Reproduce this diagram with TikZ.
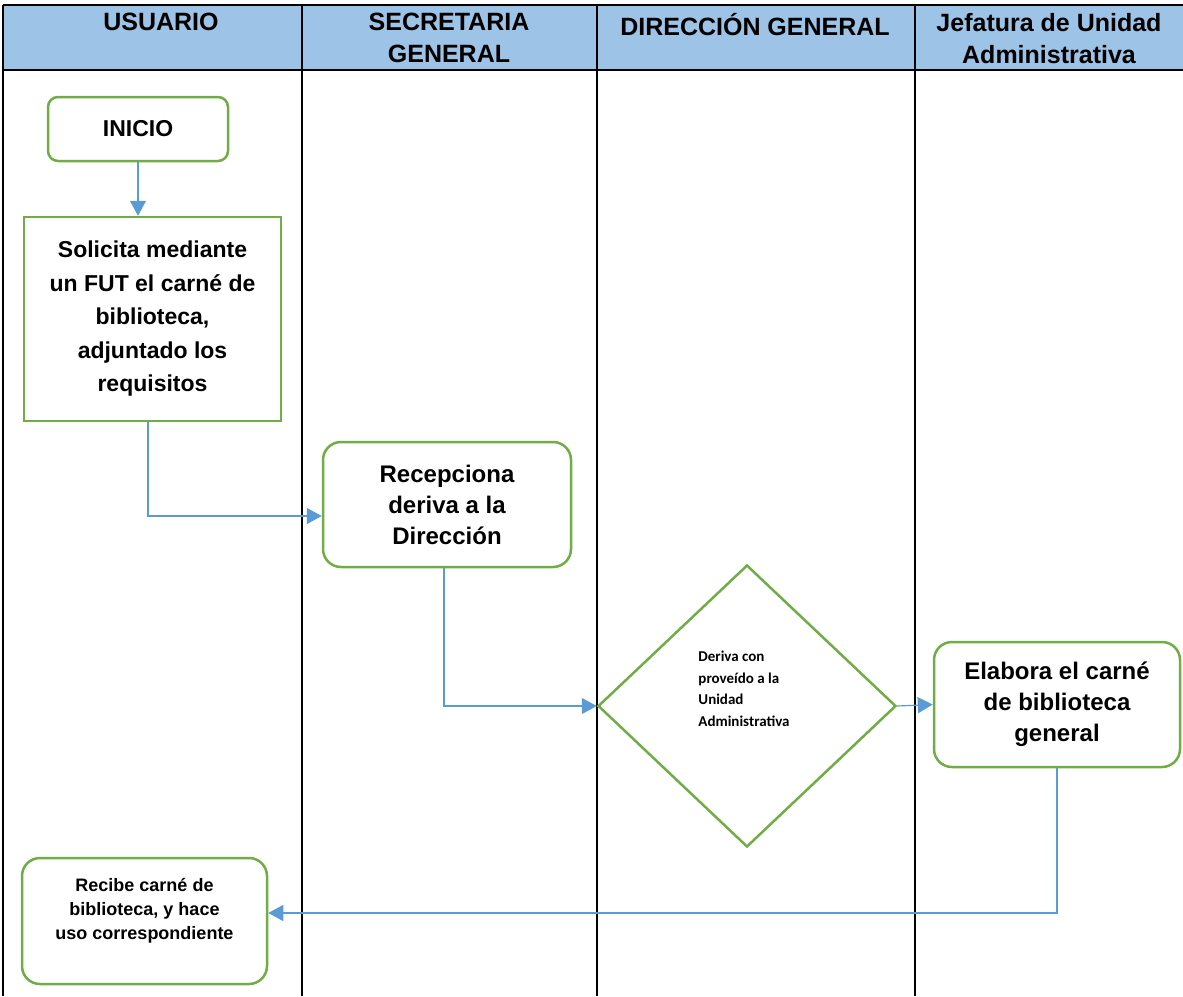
\documentclass[tikz,border=0pt]{standalone}
\usepackage{fontspec}
\setmainfont{Liberation Sans}
\newfontfamily\carlito{Carlito}
\usetikzlibrary{arrows.meta,shapes.geometric,calc}
\definecolor{laneblue}{HTML}{9DC3E6}
\definecolor{boxgreen}{HTML}{70AD47}
\definecolor{flowblue}{HTML}{5B9BD5}
\begin{document}
\begin{tikzpicture}[x=1pt,y=-1pt,
  lane/.style={draw=black,line width=2pt},
  head/.style={font=\bfseries\fontsize{25}{32}\selectfont,align=center,anchor=north,inner sep=0pt},
  box/.style={draw=boxgreen,line width=2.5pt,fill=white,align=center,inner sep=0pt,
              font=\bfseries\fontsize{24}{31}\selectfont},
  rbox/.style={box,rounded corners=18pt},
  flow/.style={draw=flowblue,line width=1.2pt,-{Triangle[length=15pt,width=16pt]}}]
\useasboundingbox (0,0) rectangle (1183,996);

% swimlane header and lane borders
\fill[laneblue] (3,5) rectangle (1183,70);
\draw[lane] (3,5) -- (1183,5);
\draw[lane] (3,70) -- (1183,70);
\foreach \x in {3,302,597,915} \draw[lane] (\x,5) -- (\x,996);

\node[head] (h1) at (161,13) {USUARIO};
\node[head] (h2) at (449,13) {SECRETARIA\\GENERAL};
\node[head] (h3) at (755,13) {DIRECCIÓN GENERAL};
\node[head] (h4) at (1049,13) {Jefatura de Unidad\\Administrativa};

% process steps
\node[box,rounded corners=10pt,minimum width=180pt,minimum height=64pt,
      font=\bfseries\fontsize{23}{30}\selectfont] (ini) at (138,129) {INICIO};
\node[box,minimum width=257pt,minimum height=204pt,
      font=\bfseries\fontsize{23}{33.5}\selectfont] (sol) at (152.5,319)
  {Solicita mediante\\un FUT el carné de\\biblioteca,\\adjuntado los\\requisitos};
\node[rbox,minimum width=248pt,minimum height=125pt] (rec) at (447,504.5)
  {Recepciona\\deriva a la\\Dirección};
\node[draw=boxgreen,line width=2.5pt,diamond,aspect=1.057,minimum width=298pt,
      minimum height=282pt,inner sep=0pt] (dia) at (747,706) {};
\node[font=\carlito\bfseries\fontsize{15}{21.5}\selectfont,align=left,inner sep=0pt]
  (diatext) at (744,689) {Deriva con\\proveído a la\\Unidad\\Administrativa};
\node[rbox,minimum width=246pt,minimum height=125pt] (ela) at (1057,704.5)
  {Elabora el carné\\de biblioteca\\general};
\node[rbox,minimum width=245pt,minimum height=126pt] (rcb) at (144.5,921) {};
\node[font=\bfseries\fontsize{18}{24}\selectfont,align=center,inner sep=0pt]
  (rcbtext) at ($(rcb.center)+(0,-10)$) {Recibe carné de\\biblioteca, y hace\\uso correspondiente};

% connectors
\draw[flow] (ini.south) -- (ini.south |- sol.north);
\draw[flow] ($(sol.south)+(-4.5,0)$) |- ($(rec.west)+(0,11.5)$);
\draw[flow] ($(rec.south)+(-3,0)$) |- (dia.west);
\draw[flow] (dia.east) -- (ela.west);
\draw[flow] (ela.south) |- ($(rcb.east)+(0,-8)$);
\end{tikzpicture}
\end{document}
